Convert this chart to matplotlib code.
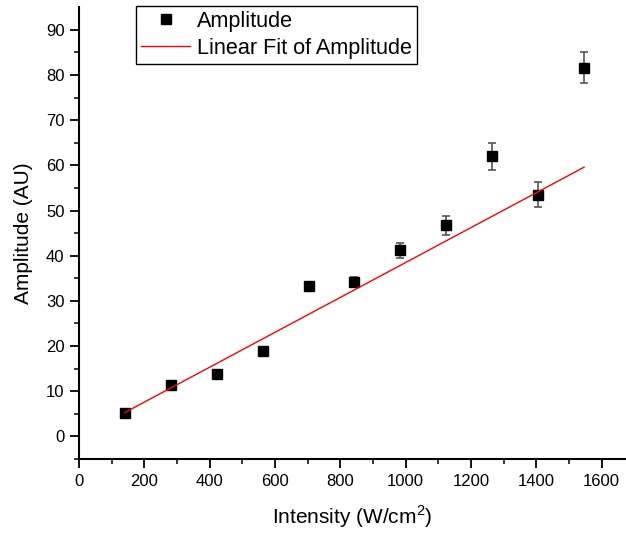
import numpy as np
import matplotlib
matplotlib.use("Agg")
import matplotlib.pyplot as plt

plt.rcParams['font.family'] = ['Liberation Sans', 'DejaVu Sans']
plt.rcParams['mathtext.fontset'] = 'custom'
plt.rcParams['mathtext.rm'] = 'Liberation Sans'

# Data
intensity = [140.6, 281.2, 421.8, 562.4, 703.0, 843.6, 984.2, 1124.8, 1265.4, 1406.0, 1546.6]
amplitude = [5.1, 11.4, 13.9, 18.9, 33.2, 34.2, 41.2, 46.7, 62.0, 53.5, 81.6]
amp_err = [0.3, 0.5, 0.6, 0.7, 0.8, 1.0, 1.6, 2.0, 3.0, 2.8, 3.4]
fit_intercept = -0.13
fit_slope = 0.03862

x_ticks = [0, 200, 400, 600, 800, 1000, 1200, 1400, 1600]
y_ticks = [0, 10, 20, 30, 40, 50, 60, 70, 80, 90]

fig = plt.figure(figsize=(6.26, 5.33), dpi=100)
ax = fig.add_axes([79/626, 74/533, 547/626, (459-7.3)/533])

ax.errorbar(intensity, amplitude, yerr=amp_err, fmt='none', ecolor='#555555',
            elinewidth=1.2, capsize=3.2, capthick=1.2, zorder=2)
ax.plot(intensity, amplitude, 's', color='black', ms=7.8, zorder=3, label='Amplitude')

fx = np.array([intensity[0], intensity[-1]])
ax.plot(fx, fit_intercept + fit_slope * fx, color='red', lw=1.0, zorder=4,
        label='Linear Fit of Amplitude')

ax.set_xlim(0, 1675)
ax.set_ylim(-5, 95)
ax.set_xticks(x_ticks)
ax.set_yticks(y_ticks)
ax.set_xticks(np.arange(100, 1700, 200), minor=True)
ax.set_yticks(np.arange(-5, 95, 10), minor=True)

for s in ['top', 'right']:
    ax.spines[s].set_visible(False)
for s in ['left', 'bottom']:
    ax.spines[s].set_linewidth(1.5)

ax.tick_params(which='major', direction='out', length=6.5, width=1.3, labelsize=12, pad=4)
ax.tick_params(which='minor', direction='out', length=3.5, width=1.1)

ax.set_xlabel('Intensity (W/cm$^{\\mathregular{2}}$)', fontsize=15, labelpad=11)
ax.set_ylabel('Amplitude (AU)', fontsize=15, labelpad=9)

leg = ax.legend(loc='upper left', bbox_to_anchor=(0.104, 1.003), borderaxespad=0,
                fontsize=15.6, frameon=True, fancybox=False, shadow=False,
                handlelength=2.3, handletextpad=0.3, borderpad=0.22, labelspacing=0.28,
                numpoints=1)
leg.get_frame().set_edgecolor('black')
leg.get_frame().set_linewidth(1.0)
leg.get_frame().set_alpha(1)

fig.savefig('out.png', dpi=100)
